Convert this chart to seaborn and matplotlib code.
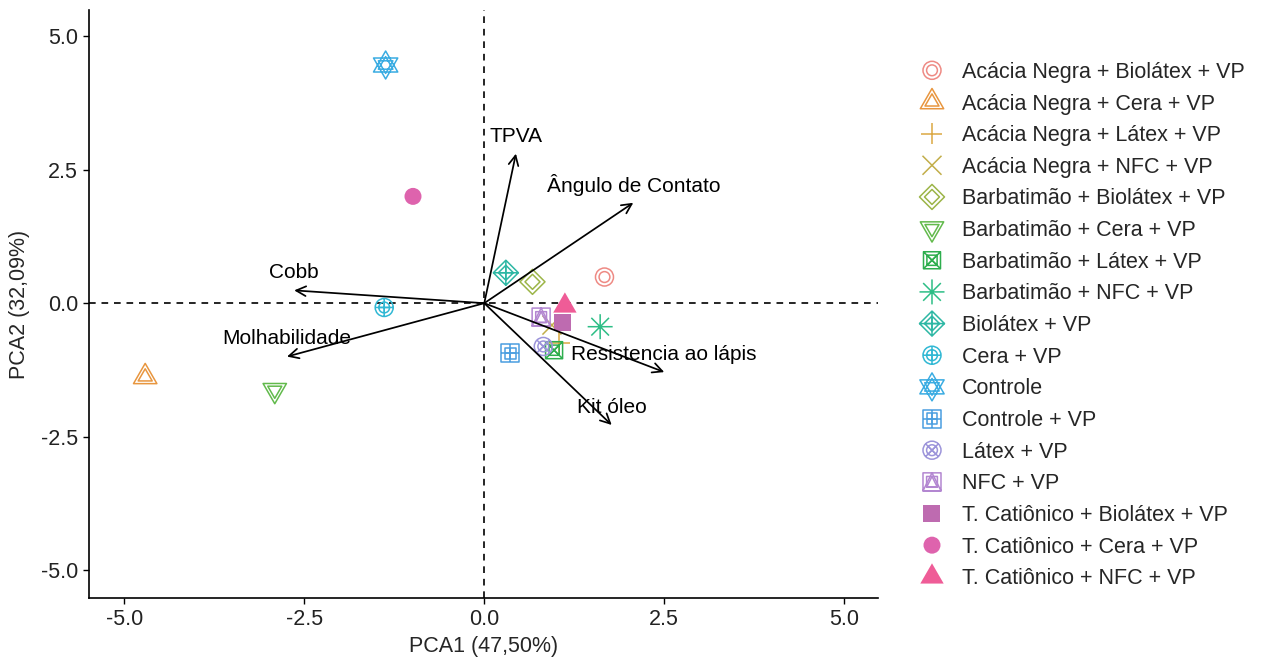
import matplotlib
matplotlib.use('Agg')
import matplotlib.pyplot as plt
from matplotlib.path import Path
import seaborn as sns

# scores (PC1, PC2) per treatment
groups = ['Acácia Negra + Biolátex + VP', 'Acácia Negra + Cera + VP',
          'Acácia Negra + Látex + VP', 'Acácia Negra + NFC + VP',
          'Barbatimão + Biolátex + VP', 'Barbatimão + Cera + VP',
          'Barbatimão + Látex + VP', 'Barbatimão + NFC + VP',
          'Biolátex + VP', 'Cera + VP', 'Controle', 'Controle + VP',
          'Látex + VP', 'NFC + VP', 'T. Catiônico + Biolátex + VP',
          'T. Catiônico + Cera + VP', 'T. Catiônico + NFC + VP']
pc1 = [1.67, -4.71, 1.04, 0.94, 0.67, -2.91, 0.97, 1.61, 0.30, -1.39,
       -1.37, 0.36, 0.82, 0.79, 1.08, -0.99, 1.12]
pc2 = [0.49, -1.38, -0.75, -0.41, 0.40, -1.63, -0.88, -0.44, 0.57, -0.08,
       4.46, -0.94, -0.81, -0.26, -0.36, 2.00, -0.05]

# loadings (arrows)
variables = ['TPVA', 'Ângulo de Contato', 'Cobb', 'Molhabilidade',
             'Resistencia ao lápis', 'Kit óleo']
load1 = [0.44, 2.07, -2.64, -2.74, 2.50, 1.77]
load2 = [2.80, 1.88, 0.24, -1.00, -1.29, -2.28]

colors = ['#EE8A84', '#E8963F', '#DBA843', '#C2AE4A', '#9CB548', '#62BA4C',
          '#2EAE4E', '#2DBE86', '#2DB7A4', '#30B8D4', '#3AACE2', '#4A9EE0',
          '#9C94DA', '#B387D1', '#BE6BB0', '#DE63AD', '#EF5C97']


def poly(pts):
    verts = list(pts) + [pts[0]]
    codes = [Path.MOVETO] + [Path.LINETO] * (len(pts) - 1) + [Path.CLOSEPOLY]
    return Path(verts, codes)


def segs(*pairs):
    verts, codes = [], []
    for a, b in pairs:
        verts += [a, b]
        codes += [Path.MOVETO, Path.LINETO]
    return Path(verts, codes)


comp = Path.make_compound_path
circ = Path.unit_circle()
sq = poly([(-1, -1), (1, -1), (1, 1), (-1, 1)])
dia = poly([(0, 1), (1, 0), (0, -1), (-1, 0)])
tri_up = poly([(0, 1), (-0.866, -0.5), (0.866, -0.5)])
tri_dn = poly([(0, -1), (-0.866, 0.5), (0.866, 0.5)])
plus = segs(((-1, 0), (1, 0)), ((0, -1), (0, 1)))
cross = segs(((-.707, -.707), (.707, .707)), ((-.707, .707), (.707, -.707)))
sq_x = segs(((-1, -1), (1, 1)), ((-1, 1), (1, -1)))
sq_tri = poly([(0, 1), (-1, -1), (1, -1)])

# marker, size in px, kind ('hollow' doubled outline, 'line', 'filled')
styles = [
    (circ, 18, 'hollow'),
    (tri_up, 27, 'hollow'),
    (plus, 21, 'line'),
    (cross, 19, 'line'),
    (dia, 25, 'hollow'),
    (tri_dn, 27, 'hollow'),
    (comp(sq, sq_x), 17, 'hollow'),
    (comp(plus, cross), 25, 'line'),
    (comp(dia, plus), 25, 'hollow'),
    (comp(circ, plus), 18, 'hollow'),
    (comp(tri_up, tri_dn), 28, 'hollow'),
    (comp(sq, plus), 18, 'hollow'),
    (comp(circ, cross), 18, 'hollow'),
    (comp(sq, sq_tri), 18, 'hollow'),
    ('s', 17, 'filled'),
    ('o', 17, 'filled'),
    (tri_up, 27, 'filled'),
]

sns.set_style('white')
plt.rcParams['font.family'] = ['Liberation Sans', 'DejaVu Sans']
plt.rcParams['axes.unicode_minus'] = False

fig = plt.figure(figsize=(12.63, 6.58), dpi=100)
ax = fig.add_axes([0.0705, 0.0912, 0.6247, 0.8936])

ax.axhline(0, color='black', lw=1.2, ls=(0, (4, 3.5)), zorder=1)
ax.axvline(0, color='black', lw=1.2, ls=(0, (4, 3.5)), zorder=1)

handles = []
for i, g in enumerate(groups):
    mk, px, kind = styles[i]
    ms = px * 0.72
    c = colors[i]
    if kind == 'filled':
        sns.scatterplot(x=[pc1[i]], y=[pc2[i]], marker=mk, s=ms ** 2, ax=ax,
                        facecolor=c, edgecolor='none', linewidth=0, zorder=3)
        handles.append(ax.collections[-1])
    else:
        sns.scatterplot(x=[pc1[i]], y=[pc2[i]], marker=mk, s=ms ** 2, ax=ax,
                        facecolor='none', edgecolor=c, linewidth=1.1, zorder=3)
        outer = ax.collections[-1]
        if kind == 'hollow':
            sns.scatterplot(x=[pc1[i]], y=[pc2[i]], marker=mk, s=(ms * 0.6) ** 2,
                            ax=ax, facecolor='none', edgecolor=c, linewidth=1.1,
                            zorder=3)
            handles.append((outer, ax.collections[-1]))
        else:
            handles.append(outer)

for name, lx, ly in zip(variables, load1, load2):
    ax.annotate('', xy=(lx, ly), xytext=(0, 0),
                arrowprops=dict(arrowstyle='->,head_length=0.7,head_width=0.35',
                                lw=1.25, color='black', shrinkA=0, shrinkB=0),
                zorder=4)
    ax.text(lx, ly + 0.33, name, ha='center', va='center', fontsize=15,
            color='black', zorder=5)

ax.set_xlim(-5.49, 5.47)
ax.set_ylim(-5.52, 5.49)
ticks = [-5, -2.5, 0, 2.5, 5]
ax.set_xticks(ticks)
ax.set_yticks(ticks)
ax.set_xticklabels(['%.1f' % t for t in ticks])
ax.set_yticklabels(['%.1f' % t for t in ticks])
ax.tick_params(axis='both', length=4, width=1, color='black', labelsize=15.5,
               labelcolor='#222222', pad=4, bottom=True, left=True)
sns.despine(ax=ax)
for side in ['left', 'bottom']:
    ax.spines[side].set_color('black')
    ax.spines[side].set_linewidth(1.2)
ax.set_xlabel('PCA1 (47,50%)', fontsize=15.5, labelpad=4)
ax.set_ylabel('PCA2 (32,09%)', fontsize=15.5, labelpad=8)

fig.legend(handles, groups, loc='upper left', bbox_to_anchor=(0.7294, 0.906),
           frameon=False, fontsize=15.5, scatterpoints=1, scatteryoffsets=[0.5],
           handlelength=1.0, handletextpad=0.9, labelspacing=0.495,
           borderpad=0, borderaxespad=0)

fig.savefig('out.png', dpi=100)
